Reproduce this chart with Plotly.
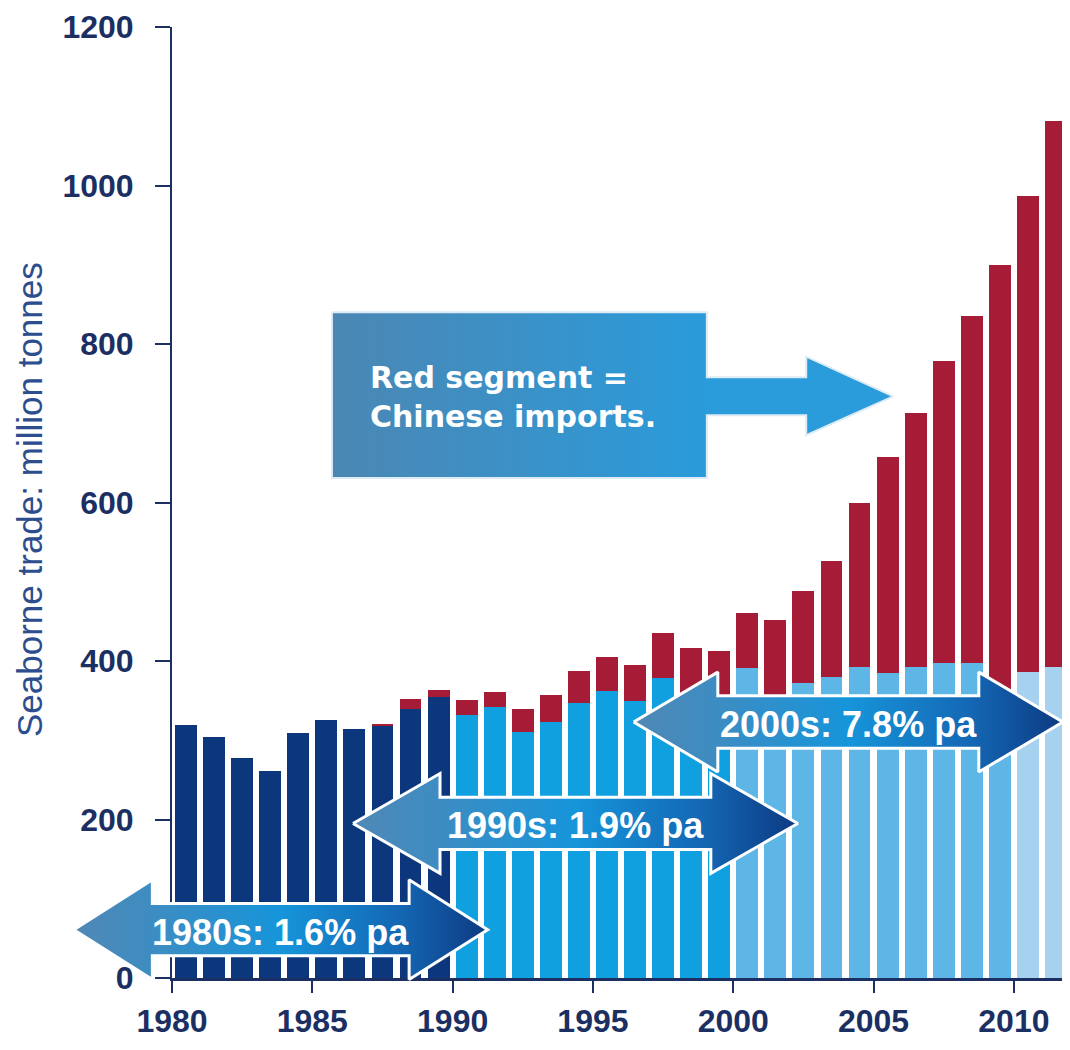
import plotly.graph_objects as go

# seaborne trade, million tonnes
years = list(range(1980, 2012))
other_imports = [319, 304, 278, 261, 309, 326, 314, 318, 339, 354,
                 332, 342, 311, 323, 347, 362, 349, 378, 355, 350,
                 391, 355, 372, 380, 392, 385, 392, 397, 397, 365,
                 386, 392]
china_imports = [0, 0, 0, 0, 0, 0, 0, 3, 13, 10,
                 19, 19, 28, 34, 40, 43, 46, 57, 62, 62,
                 69, 97, 116, 146, 207, 272, 321, 382, 438, 535,
                 601, 690]

decade_labels = ["1980s: 1.6% pa", "1990s: 1.9% pa", "2000s: 7.8% pa"]
callout_text = "Red segment =<br>Chinese imports."
y_title = "Seaborne trade: million tonnes"

decade_colors = {1980: "#0d377c", 1990: "#10a0e0", 2000: "#5eb6e7", 2010: "#a6d1ef"}
RED = "#a61c37"
NAVY = "#1c2f63"
FONT = "Liberation Sans, Arial, sans-serif"
WIDE_FONT = "DejaVu Sans, Verdana, sans-serif"

# the page body adds an 8px margin, so the figure is sized to end at the window edge
OFFSET = 8
W, H = 1070 - OFFSET, 1050 - OFFSET
PLOT_L, PLOT_R, PLOT_T, PLOT_B = 172 - OFFSET, W, 27 - OFFSET, 978 - OFFSET
X_RANGE = [1980, 2012]
Y_RANGE = [0, 1200]

# overlay axes span the whole figure with the same scale as the main axes,
# so the arrows can run past the plot area without being clipped
x_per_px = (X_RANGE[1] - X_RANGE[0]) / (PLOT_R - PLOT_L)
y_per_px = (Y_RANGE[1] - Y_RANGE[0]) / (PLOT_B - PLOT_T)
x2_range = [X_RANGE[0] - PLOT_L * x_per_px, X_RANGE[1] + (W - PLOT_R) * x_per_px]
y2_range = [Y_RANGE[0] - (H - PLOT_B) * y_per_px, Y_RANGE[1] + PLOT_T * y_per_px]

base_colors = [decade_colors[(y // 10) * 10] for y in years]
bar_x = [y + 0.5 for y in years]

fig = go.Figure()
fig.add_trace(go.Bar(x=bar_x, y=other_imports, width=0.78, marker=dict(color=base_colors, line_width=0),
                     name="Other", hoverinfo="x+y"))
fig.add_trace(go.Bar(x=bar_x, y=china_imports, width=0.78, marker=dict(color=RED, line_width=0),
                     name="China", hoverinfo="x+y"))

# decade growth arrows: (left tip, right tip, centre value, head length)
arrow_specs = [
    (1976.5, 1991.25, 61, 2.8),
    (1986.45, 2002.3, 195, 3.1),
    (1996.45, 2011.75, 323, 3.0),
]
HEAD_HALF, BODY_HALF = 63, 33
arrow_scale = [[0, "#5088b5"], [0.22, "#3a8dc4"], [0.5, "#1695da"], [0.78, "#1468b5"], [1, "#0d3a82"]]

for (left, right, c, h), label in zip(arrow_specs, decade_labels):
    xs = [left, left + h, left + h, right - h, right - h, right, right - h, right - h, left + h, left + h, left]
    ys = [c, c + HEAD_HALF, c + BODY_HALF, c + BODY_HALF, c + HEAD_HALF, c,
          c - HEAD_HALF, c - BODY_HALF, c - BODY_HALF, c - HEAD_HALF, c]
    fig.add_trace(go.Scatter(x=xs, y=ys, xaxis="x2", yaxis="y2", mode="lines", fill="toself",
                             fillgradient=dict(type="horizontal", colorscale=arrow_scale),
                             line=dict(color="white", width=3), hoverinfo="skip", showlegend=False))
    fig.add_annotation(x=(left + right) / 2, y=c - 3, xref="x2", yref="y2", text=label, showarrow=False,
                       xanchor="center", yanchor="middle",
                       font=dict(family=FONT, size=36, color="white", weight=700))

# callout box with arrow pointing at the red segments
box_l, box_r, box_t, box_b = 1985.7, 1999.06, 840, 631
shaft_t, shaft_b, head_x, head_t, head_b, tip_x, tip_y = 758, 710, 2002.6, 784, 685, 2005.7, 734
cx = [box_l, box_r, box_r, head_x, head_x, tip_x, head_x, head_x, box_r, box_r, box_l, box_l]
cy = [box_t, box_t, shaft_t, shaft_t, head_t, tip_y, head_b, shaft_b, shaft_b, box_b, box_b, box_t]
fig.add_trace(go.Scatter(x=cx, y=cy, xaxis="x2", yaxis="y2", mode="lines", fill="toself",
                         fillgradient=dict(type="horizontal", start=box_l, stop=box_r,
                                           colorscale=[[0, "#4b87b3"], [1, "#2a9bdb"]]),
                         line=dict(color="#dcebf5", width=2), hoverinfo="skip", showlegend=False))
fig.add_annotation(x=1986.98, y=733, xref="x2", yref="y2", text=callout_text, showarrow=False,
                   xanchor="left", yanchor="middle", align="left",
                   font=dict(family=WIDE_FONT, size=30, color="white", weight=700))

fig.add_annotation(x=(29 - OFFSET) / W, y=(H - (500 - OFFSET)) / H, xref="paper", yref="paper",
                   text=y_title, showarrow=False, textangle=-90, xanchor="center", yanchor="middle",
                   borderpad=0, font=dict(family=FONT, size=35, color="#2d4e8e"))

fig.update_layout(
    width=W, height=H,
    margin=dict(l=0, r=0, t=0, b=0),
    paper_bgcolor="white", plot_bgcolor="rgba(0,0,0,0)",
    barmode="stack", showlegend=False,
    xaxis=dict(domain=[PLOT_L / W, PLOT_R / W], range=X_RANGE, tickvals=list(range(1980, 2011, 5)),
               ticks="outside", ticklen=12, tickwidth=2, tickcolor=NAVY, showline=True, linecolor=NAVY,
               linewidth=3, showgrid=False, zeroline=False, automargin=False, ticklabelstandoff=1,
               tickfont=dict(family=FONT, size=32, color=NAVY, weight=700)),
    yaxis=dict(domain=[(H - PLOT_B) / H, (H - PLOT_T) / H], range=Y_RANGE, tickvals=list(range(0, 1201, 200)),
               ticks="outside", ticklen=15, tickwidth=2, tickcolor=NAVY, showline=True, linecolor=NAVY,
               linewidth=2, showgrid=False, zeroline=False, automargin=False, ticklabelstandoff=15,
               tickfont=dict(family=FONT, size=32, color=NAVY, weight=700)),
    xaxis2=dict(domain=[0, 1], range=x2_range, visible=False, anchor="y2", fixedrange=True),
    yaxis2=dict(domain=[0, 1], range=y2_range, visible=False, anchor="x2", fixedrange=True),
)

fig.write_html("out.html")
